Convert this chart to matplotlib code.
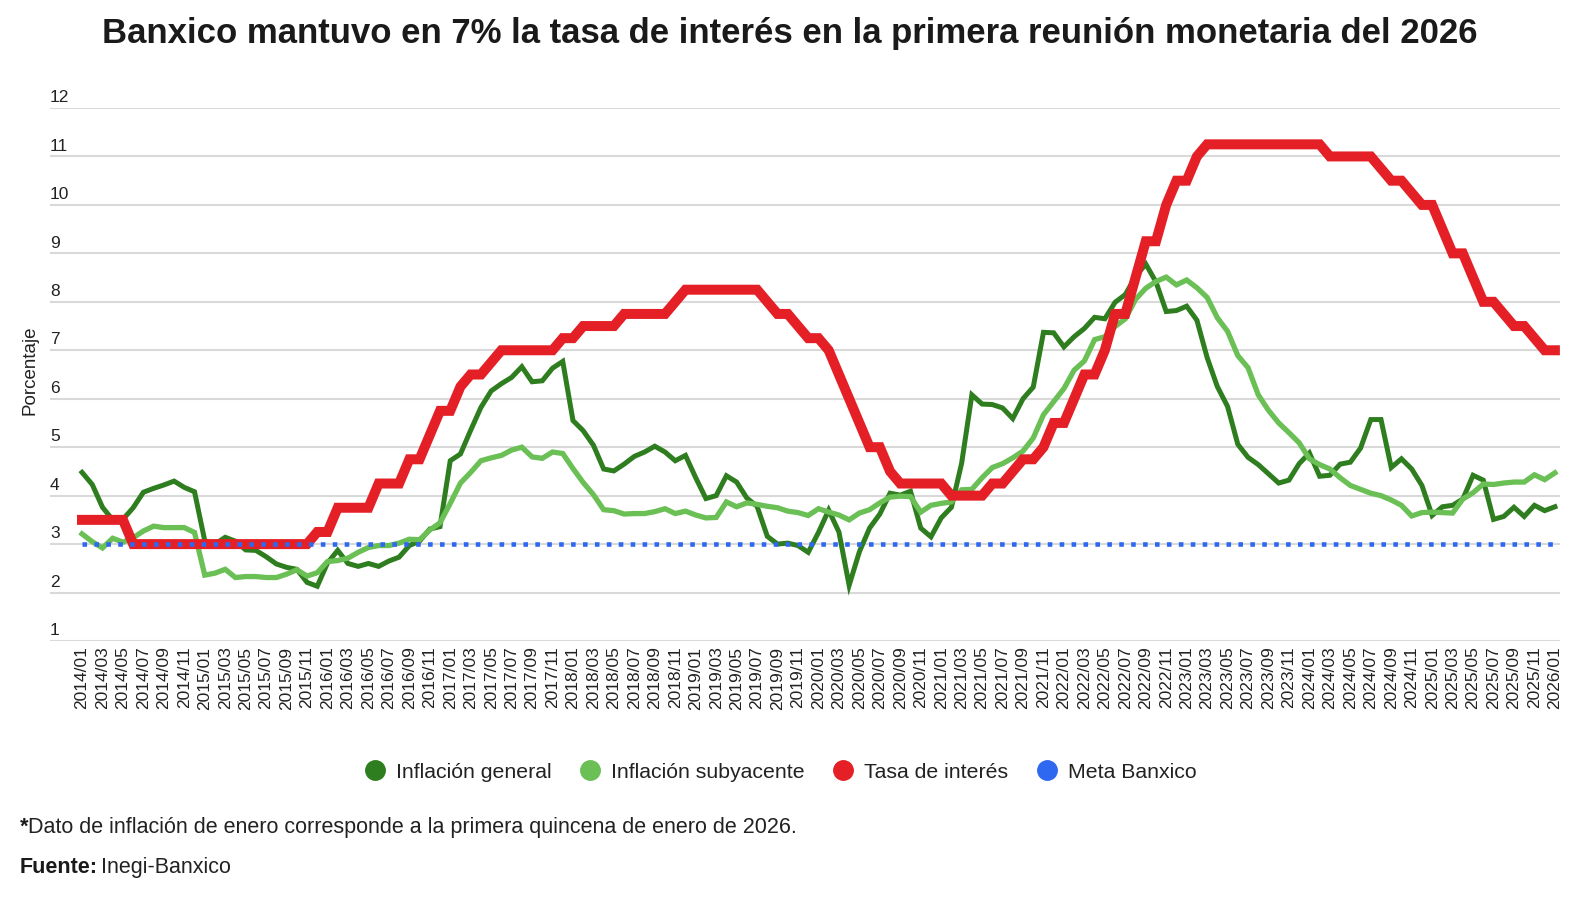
import matplotlib
matplotlib.use("Agg")
import numpy as np
from matplotlib import pyplot as plt
from matplotlib import font_manager
from matplotlib.lines import Line2D

# meses 2014/01 - 2026/01
meses = [f"{a}/{m:02d}" for a in range(2014, 2027) for m in range(1, 13)][:145]

# Inflación general (anual, %)
general = [4.48, 4.23, 3.76, 3.50, 3.51, 3.75, 4.07, 4.15, 4.22, 4.30, 4.17, 4.08,
           3.07, 3.00, 3.14, 3.06, 2.88, 2.87, 2.74, 2.59, 2.52, 2.48, 2.21, 2.13,
           2.61, 2.87, 2.60, 2.54, 2.60, 2.54, 2.65, 2.73, 2.97, 3.06, 3.31, 3.36,
           4.72, 4.86, 5.35, 5.82, 6.16, 6.31, 6.44, 6.66, 6.35, 6.37, 6.63, 6.77,
           5.55, 5.34, 5.04, 4.55, 4.51, 4.65, 4.81, 4.90, 5.02, 4.90, 4.72, 4.83,
           4.37, 3.94, 4.00, 4.41, 4.28, 3.95, 3.78, 3.16, 3.00, 3.02, 2.97, 2.83,
           3.24, 3.70, 3.25, 2.15, 2.84, 3.33, 3.62, 4.05, 4.01, 4.09, 3.33, 3.15,
           3.54, 3.76, 4.67, 6.08, 5.89, 5.88, 5.81, 5.59, 6.00, 6.24, 7.37, 7.36,
           7.07, 7.28, 7.45, 7.68, 7.65, 7.99, 8.15, 8.52, 8.78, 8.41, 7.80, 7.82,
           7.91, 7.62, 6.85, 6.25, 5.84, 5.06, 4.79, 4.64, 4.45, 4.26, 4.32, 4.66,
           4.88, 4.40, 4.42, 4.65, 4.69, 4.98, 5.57, 5.57, 4.58, 4.76, 4.55, 4.21,
           3.59, 3.77, 3.80, 3.93, 4.42, 4.32, 3.51, 3.57, 3.76, 3.57, 3.80, 3.69,
           3.77]

# Inflación subyacente
subyacente = [3.21, 3.05, 2.92, 3.12, 3.04, 3.13, 3.27, 3.37, 3.34, 3.34, 3.34, 3.24,
              2.36, 2.40, 2.48, 2.31, 2.33, 2.33, 2.31, 2.31, 2.38, 2.47, 2.34, 2.41,
              2.64, 2.66, 2.71, 2.83, 2.93, 2.97, 2.97, 3.02, 3.10, 3.09, 3.29, 3.44,
              3.84, 4.26, 4.48, 4.72, 4.78, 4.83, 4.94, 5.00, 4.80, 4.77, 4.90, 4.87,
              4.56, 4.27, 4.02, 3.71, 3.69, 3.62, 3.63, 3.63, 3.67, 3.73, 3.63, 3.68,
              3.60, 3.54, 3.55, 3.87, 3.77, 3.85, 3.82, 3.78, 3.75, 3.68, 3.65, 3.59,
              3.73, 3.66, 3.60, 3.50, 3.64, 3.71, 3.85, 3.97, 3.99, 3.98, 3.66, 3.80,
              3.84, 3.87, 4.12, 4.13, 4.37, 4.58, 4.66, 4.78, 4.92, 5.19, 5.67, 5.94,
              6.21, 6.59, 6.78, 7.22, 7.28, 7.49, 7.65, 8.05, 8.28, 8.42, 8.51, 8.35,
              8.45, 8.29, 8.09, 7.67, 7.39, 6.89, 6.64, 6.08, 5.76, 5.50, 5.30, 5.09,
              4.76, 4.64, 4.55, 4.37, 4.21, 4.13, 4.05, 4.00, 3.91, 3.80, 3.58, 3.65,
              3.66, 3.65, 3.64, 3.93, 4.06, 4.24, 4.23, 4.26, 4.28, 4.28, 4.43, 4.33,
              4.47]

# Tasa objetivo Banxico
tasa = [3.5, 3.5, 3.5, 3.5, 3.5, 3.0, 3.0, 3.0, 3.0, 3.0, 3.0, 3.0,
        3.0, 3.0, 3.0, 3.0, 3.0, 3.0, 3.0, 3.0, 3.0, 3.0, 3.0, 3.25,
        3.25, 3.75, 3.75, 3.75, 3.75, 4.25, 4.25, 4.25, 4.75, 4.75, 5.25, 5.75,
        5.75, 6.25, 6.5, 6.5, 6.75, 7.0, 7.0, 7.0, 7.0, 7.0, 7.0, 7.25,
        7.25, 7.5, 7.5, 7.5, 7.5, 7.75, 7.75, 7.75, 7.75, 7.75, 8.0, 8.25,
        8.25, 8.25, 8.25, 8.25, 8.25, 8.25, 8.25, 8.0, 7.75, 7.75, 7.5, 7.25,
        7.25, 7.0, 6.5, 6.0, 5.5, 5.0, 5.0, 4.5, 4.25, 4.25, 4.25, 4.25,
        4.25, 4.0, 4.0, 4.0, 4.0, 4.25, 4.25, 4.5, 4.75, 4.75, 5.0, 5.5,
        5.5, 6.0, 6.5, 6.5, 7.0, 7.75, 7.75, 8.5, 9.25, 9.25, 10.0, 10.5,
        10.5, 11.0, 11.25, 11.25, 11.25, 11.25, 11.25, 11.25, 11.25, 11.25, 11.25, 11.25,
        11.25, 11.25, 11.0, 11.0, 11.0, 11.0, 11.0, 10.75, 10.5, 10.5, 10.25, 10.0,
        10.0, 9.5, 9.0, 9.0, 8.5, 8.0, 8.0, 7.75, 7.5, 7.5, 7.25, 7.0,
        7.0]

meta = [3.0] * len(meses)

series = ["Inflación general", "Inflación subyacente", "Tasa de interés", "Meta Banxico"]
colores = ["#2E7D1E", "#6ABF55", "#E41F26", "#2F68F0"]

# fuentes
nombres = {f.name for f in font_manager.fontManager.ttflist}
cuerpo = "Liberation Sans" if "Liberation Sans" in nombres else "DejaVu Sans"
titulo_font = "Liberation Sans Narrow" if "Liberation Sans Narrow" in nombres else cuerpo
titulo_size = 28 if titulo_font == "Liberation Sans Narrow" else 25
plt.rcParams["font.family"] = [cuerpo, "DejaVu Sans"]

fig = plt.figure(figsize=(15.8, 9), dpi=100)
ax = fig.add_axes([50 / 1580, 1 - 641 / 900, 1510 / 1580, 533 / 900])

x = np.arange(len(meses))
ax.plot(x, general, color=colores[0], lw=3.6, solid_joinstyle="miter", zorder=3)
ax.plot(x, subyacente, color=colores[1], lw=3.8, solid_joinstyle="miter", zorder=3)
ax.plot(x, tasa, color=colores[2], lw=7.2, solid_joinstyle="miter", zorder=4)
ax.plot(x, meta, color=colores[3], lw=3.3, dashes=(1, 1.6), dash_capstyle="butt", zorder=5)

ax.set_xlim(-3.13, 144.5)
ax.set_ylim(1, 12)
for s in ax.spines.values():
    s.set_visible(False)

ax.set_yticks(range(1, 13))
ax.yaxis.grid(True, color="#d9d9d9", lw=1.5)
ax.set_axisbelow(True)
ax.tick_params(axis="y", length=0, labelleft=False)
for v in range(1, 13):
    ax.annotate(str(v), xy=(0, v), xycoords=("axes fraction", "data"),
                xytext=(0, 2), textcoords="offset points",
                ha="left", va="bottom", fontsize=12.5, color="#222222")

ax.set_xticks(x[::2])
ax.set_xticklabels(meses[::2], rotation=90, fontsize=12.5, color="#222222")
ax.tick_params(axis="x", length=0, pad=4)

fig.text(30 / 1580, 1 - 370 / 900, "Porcentaje", rotation=90, ha="center", va="center",
         fontsize=13.5, color="#222222")

fig.text(0.5, 1 - 33 / 900, "Banxico mantuvo en 7% la tasa de interés en la primera reunión monetaria del 2026",
         ha="center", va="center", fontsize=titulo_size, fontweight="bold",
         family=[titulo_font, "DejaVu Sans"], color="#1a1a1a")

handles = [Line2D([], [], marker="o", linestyle="none", markersize=14,
                  markerfacecolor=c, markeredgecolor=c) for c in colores]
fig.legend(handles, series, loc="center", bbox_to_anchor=(0.494, 1 - 772 / 900), ncol=4,
           frameon=False, fontsize=15.3, handlelength=1.0, handletextpad=0.5,
           columnspacing=1.3, labelcolor="#222222")

# notas al pie (misma línea base para la parte en negrita y la normal)
renderer = fig.canvas.get_renderer()
t1 = fig.text(20 / 1580, 1 - 833 / 900, "*", ha="left", va="baseline", fontsize=15.5,
              fontweight="bold", color="#1a1a1a")
bb = t1.get_window_extent(renderer)
fig.text(bb.x1 / 1580, 1 - 833 / 900, "Dato de inflación de enero corresponde a la primera quincena de enero de 2026.",
         ha="left", va="baseline", fontsize=15.5, color="#222222")
t2 = fig.text(20 / 1580, 1 - 873 / 900, "Fuente:", ha="left", va="baseline", fontsize=15.5,
              fontweight="bold", color="#1a1a1a")
bb = t2.get_window_extent(renderer)
fig.text(bb.x1 / 1580 + 0.002, 1 - 873 / 900, "Inegi-Banxico", ha="left", va="baseline",
         fontsize=15.5, color="#222222")

fig.savefig("out.png", dpi=100)
